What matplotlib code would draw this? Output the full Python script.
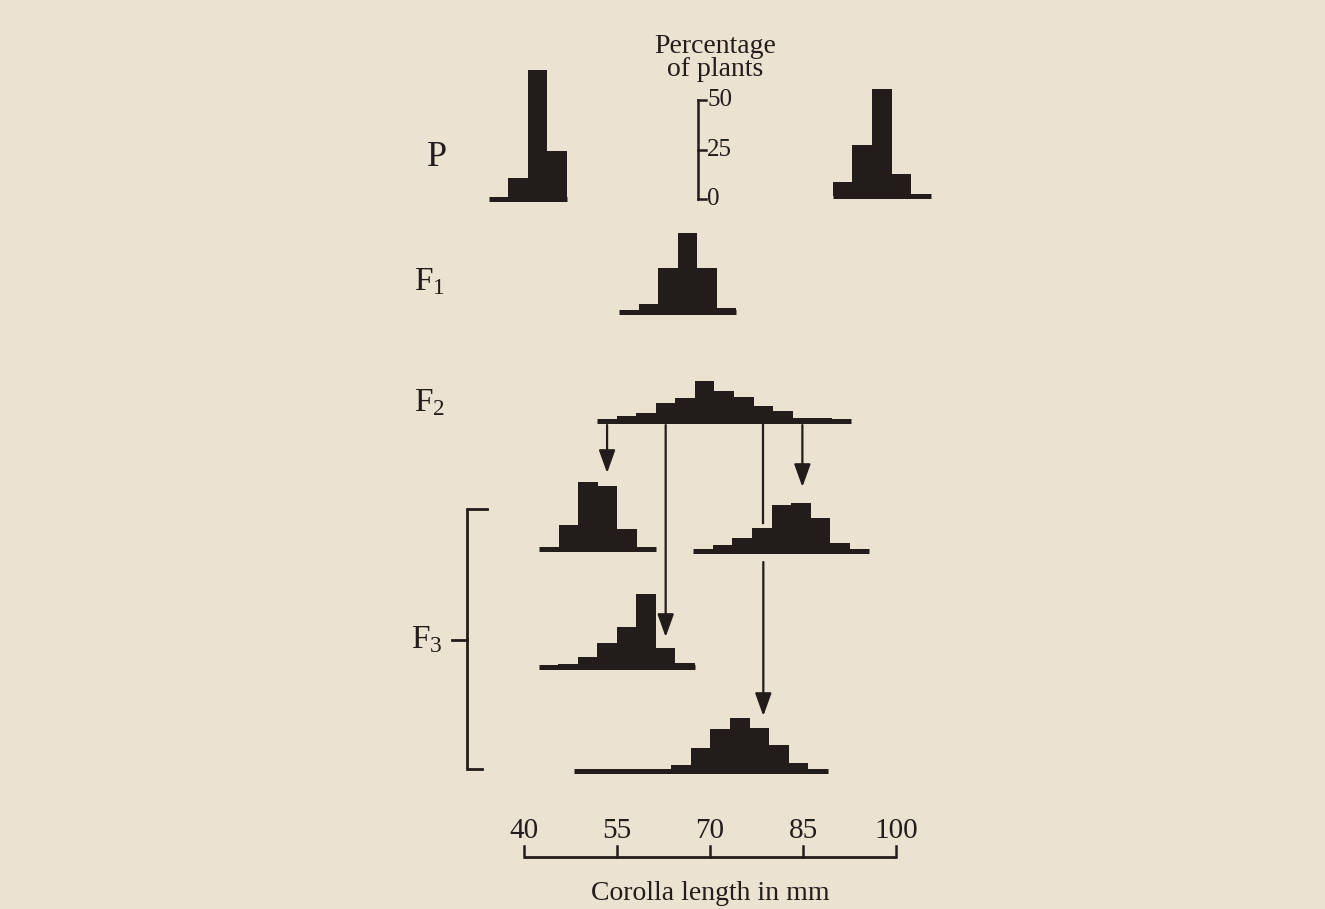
import matplotlib
matplotlib.use("Agg")
import matplotlib.pyplot as plt
import numpy as np

# class width (mm) and % of plants per class; *_start = mid-point of first class
BIN = 3.15
p_short_start = 35.9
p_short = [0, 10.5, 65, 24]
p_long_start = 91.4
p_long = [7, 26, 54, 11, 0]
f1_start = 56.9
f1 = [0, 4, 22, 40, 22, 2]
f2_start = 53.4
f2 = [0, 2.5, 4, 9, 11.5, 20, 15, 12, 7.5, 5, 1.5, 1.5, 0]
f3_a_start = 44.0
f3_a = [0, 12, 34, 32, 10, 0]
f3_b_start = 68.9
f3_b = [0, 3, 6.5, 11.5, 23, 24, 16.5, 4, 0]
f3_c_start = 43.95
f3_c = [0, 1.5, 5, 12, 20, 37, 9.5, 2]
f3_d_start = 49.6
f3_d = [0, 0, 0.8, 0.8, 0.8, 3, 11.5, 21, 27, 21.5, 13, 4, 0]

x_ticks = [40, 55, 70, 85, 100]
scale_ticks = [0, 25, 50]
# F2 classes that were selfed to give the F3 families
selected = [0, 3, 8, 10]

BG = "#ece2d1"
INK = "#221d1a"
SERIF = ["Liberation Serif", "DejaVu Serif"]
plt.rcParams["font.family"] = SERIF

W, H = 1325, 909
PX_MM = 6.2      # pixels per mm
PCT = 1.98       # pixels per percent


def X(px):
    return 40 + (px - 524) / PX_MM


fig = plt.figure(figsize=(W / 100, H / 100), dpi=100, facecolor=BG)
ax = fig.add_axes([0, 0, 1, 1])
ax.set_facecolor(BG)
ax.set_xlim(X(0), X(W))
ax.set_ylim(H, 0)
ax.axis("off")


def hist(start, vals, row):
    mids = start + BIN * np.arange(len(vals))
    ax.bar(mids, -np.array(vals) * PCT, bottom=row, width=BIN, color=INK,
           linewidth=0)
    ax.plot([mids[0] - BIN / 2, mids[-1] + BIN / 2], [row, row], color=INK,
            lw=3.6, solid_capstyle="butt")
    return mids


hist(p_short_start, p_short, 199)
hist(p_long_start, p_long, 196)
hist(f1_start, f1, 312)
f2_mids = hist(f2_start, f2, 421)
hist(f3_a_start, f3_a, 549)
hist(f3_b_start, f3_b, 551)
hist(f3_c_start, f3_c, 667)
hist(f3_d_start, f3_d, 771)

# arrows from F2 classes to F3 families
arr = dict(arrowstyle="-|>,head_length=1.0,head_width=0.36", color=INK,
           lw=1.6, shrinkA=0, shrinkB=0, mutation_scale=14)
tips = [473, 637, 716, 487]
for i, tip in zip(selected, tips):
    x = f2_mids[i]
    if tip == 716:
        ax.plot([x, x], [425, 523], color=INK, lw=1.6)
        ax.annotate("", xy=(x, tip), xytext=(x, 562), arrowprops=arr)
    else:
        ax.annotate("", xy=(x, tip), xytext=(x, 425), arrowprops=arr)

# generation labels
ax.text(X(437), 157, "P", fontsize=26, color=INK, ha="center", va="center")
ax.text(X(430), 282, r"$\mathregular{F_1}$", fontsize=24, color=INK,
        ha="center", va="center")
ax.text(X(430), 403, r"$\mathregular{F_2}$", fontsize=24, color=INK,
        ha="center", va="center")
ax.text(X(427), 640, r"$\mathregular{F_3}$", fontsize=24, color=INK,
        ha="center", va="center")

# F3 bracket
ax.plot([X(487), X(467), X(467), X(482)], [509, 509, 769, 769], color=INK,
        lw=2.0, solid_joinstyle="miter")
ax.plot([X(452), X(467)], [640, 640], color=INK, lw=2.0)

# percentage scale
sx = X(698)
base = 199
ax.plot([sx, sx], [base, base - 50 * PCT], color=INK, lw=1.8)
for t in scale_ticks:
    y = base - t * PCT
    ax.plot([sx, sx + 1.3], [y, y], color=INK, lw=1.8)
    ax.text(sx + 1.5, y, str(t), fontsize=18, color=INK, ha="left",
            va="center")
ax.text(X(715), 58, "Percentage\nof plants", fontsize=20, color=INK,
        ha="center", va="center", linespacing=0.85)

# corolla length axis
ay = 857
ax.plot([x_ticks[0], x_ticks[-1]], [ay, ay], color=INK, lw=2.0,
        solid_capstyle="butt")
for t in x_ticks:
    ax.plot([t, t], [ay, ay - 11], color=INK, lw=1.8)
    ax.text(t, 838, str(t), fontsize=21, color=INK, ha="center",
            va="baseline")
ax.text(70, 893, "Corolla length in mm", fontsize=20, color=INK,
        ha="center", va="center")

fig.savefig("out.png", dpi=100, facecolor=BG)
